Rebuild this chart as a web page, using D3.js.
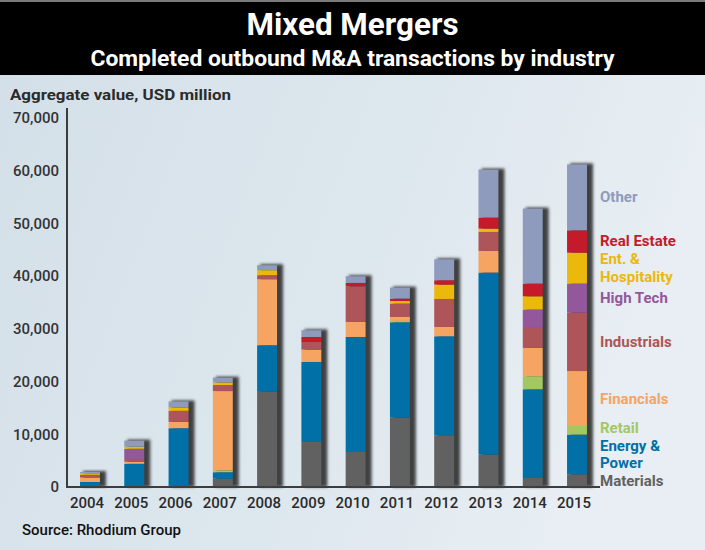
<!DOCTYPE html>
<html>
<head>
<meta charset="utf-8">
<script src="https://cdn.jsdelivr.net/npm/d3@7"></script>
<style>
  html, body { margin: 0; padding: 0; background: #dde6ec; }
  svg { display: block; }
  text { font-family: Roboto, "Noto Sans", sans-serif; }
</style>
</head>
<body>
<svg id="chart" width="705" height="550"></svg>
<script>
// ---------- data ----------
const years = ["2004","2005","2006","2007","2008","2009","2010","2011","2012","2013","2014","2015"];
const materials   = [0,    0,    200,   1600,  18050, 8540,  6640,  13170, 9810,  6150,  1710,  2410];
const energy      = [950,  4400, 10950, 1200,  8850,  15180, 21820, 18080, 18780, 34530, 16830, 7530];
const retail      = [0,    0,    0,     350,   0,     0,     0,     250,   0,     0,     2470,  1630];
const financials  = [850,  400,  1200,  15050, 12520, 2350,  2850,  750,   1770,  4100,  5370,  10430];
const industrials = [500,  500,  2100,  1140,  760,   1440,  6770,  2540,  5310,  3600,  3980,  11080];
const highTech    = [0,    1950, 0,     0,     0,     0,     0,     0,     0,     0,     3300,  5500];
const entHosp     = [300,  400,  630,   500,   950,   0,     0,     500,   2730,  640,   2520,  5880];
const realEstate  = [0,    0,    0,     0,     0,     950,   630,   450,   820,   2090,  2410,  4230];
const other       = [250,  1150, 1150,  900,   950,   1270,  1270,  2090,  3980,  9110,  14230, 12520];

const seriesNames = ["Materials","Energy & Power","Retail","Financials","Industrials","High Tech","Ent. & Hospitality","Real Estate","Other"];
const seriesValues = [materials, energy, retail, financials, industrials, highTech, entHosp, realEstate, other];
const legendLines = [["Materials"],["Energy &","Power"],["Retail"],["Financials"],["Industrials"],["High Tech"],["Ent. &","Hospitality"],["Real Estate"],["Other"]];
const colors = ["#616161","#0070a6","#a3c862","#f5a462","#ad5558","#93579c","#ebb80c","#c51a2a","#8e9bbd"];
const yTicks = [0,10000,20000,30000,40000,50000,60000,70000];

const title = "Mixed Mergers";
const subtitle = "Completed outbound M&A transactions by industry";
const yLabel = "Aggregate value, USD million";
const source = "Source: Rhodium Group";

// ---------- layout ----------
const W = 705, H = 550;
const svg = d3.select("#chart");
const defs = svg.append("defs");

const bg = defs.append("linearGradient").attr("id","bg").attr("x1","0").attr("y1","0").attr("x2","1").attr("y2","0.3");
bg.append("stop").attr("offset","0").attr("stop-color","#d3dfe8");
bg.append("stop").attr("offset","0.6").attr("stop-color","#dde7ee");
bg.append("stop").attr("offset","1").attr("stop-color","#e8eef3");
svg.append("rect").attr("width",W).attr("height",H).attr("fill","url(#bg)");

const blur = defs.append("filter").attr("id","shadow").attr("x","-50%").attr("y","-10%").attr("width","200%").attr("height","120%");
blur.append("feGaussianBlur").attr("stdDeviation",1.6);

// title band
svg.append("rect").attr("x",0).attr("y",0).attr("width",W).attr("height",75).attr("fill","#000");
svg.append("rect").attr("x",0).attr("y",0).attr("width",W).attr("height",2).attr("fill","#7a7a7a");
svg.append("text").attr("x",W/2).attr("y",35).attr("text-anchor","middle")
  .attr("fill","#fff").attr("font-size",32).attr("font-weight",700)
  .attr("textLength",212).attr("lengthAdjust","spacingAndGlyphs").text(title);
svg.append("text").attr("x",W/2).attr("y",66).attr("text-anchor","middle")
  .attr("fill","#fff").attr("font-size",22).attr("font-weight",700)
  .attr("textLength",524).attr("lengthAdjust","spacingAndGlyphs").text(subtitle);

svg.append("text").attr("x",10).attr("y",100).attr("fill","#2b2b2b")
  .attr("font-size",15).attr("font-weight",700)
  .attr("textLength",221).attr("lengthAdjust","spacingAndGlyphs").text(yLabel);

svg.append("text").attr("x",22).attr("y",535).attr("fill","#111")
  .attr("font-size",15).attr("font-weight",500).text(source);

// scales
const y = d3.scaleLinear().domain([0,70000]).range([487,118]);
const x = d3.scaleBand().domain(years).range([67.85,599.15]).paddingInner(0.55).paddingOuter(0.275);

// stack
const table = years.map((yr,i) => {
  const row = {year: yr};
  seriesNames.forEach((s,k) => row[s] = seriesValues[k][i]);
  return row;
});
const stacked = d3.stack().keys(seriesNames)(table);
const totals = years.map((yr,i) => d3.sum(seriesValues, s => s[i]));

// shadows
svg.append("g").selectAll("rect").data(years).join("rect")
  .attr("x", d => x(d) + 3)
  .attr("y", (d,i) => y(totals[i]) - 1)
  .attr("width", x.bandwidth() + 3)
  .attr("height", (d,i) => y(0) - y(totals[i]) + 1)
  .attr("fill","#2f2f2f").attr("opacity",0.9)
  .attr("filter","url(#shadow)");

// bars
svg.append("g").selectAll("g").data(stacked).join("g")
  .attr("fill", (d,k) => colors[k])
  .selectAll("rect").data(d => d).join("rect")
  .attr("x", d => x(d.data.year))
  .attr("y", d => y(d[1]))
  .attr("width", x.bandwidth())
  .attr("height", d => Math.max(0, y(d[0]) - y(d[1])));

// axes
const yAxis = d3.axisLeft(y).tickValues(yTicks).tickSize(0).tickPadding(8).tickFormat(d3.format(","));
const gy = svg.append("g").attr("transform","translate(67,0)").call(yAxis);
gy.select(".domain").remove();
gy.selectAll("text").attr("font-size",15).attr("font-weight",500).attr("fill","#333")
  .attr("font-family","Roboto, sans-serif");

const xAxis = d3.axisBottom(x).tickSize(0).tickPadding(10);
const gx = svg.append("g").attr("transform","translate(-3,487)").call(xAxis);
gx.select(".domain").remove();
gx.selectAll("text").attr("font-size",15).attr("font-weight",500).attr("fill","#2b2b2b")
  .attr("font-family","Roboto, sans-serif");

svg.append("path").attr("d","M67,108V487H600").attr("fill","none").attr("stroke","#3d3d3d").attr("stroke-width",2);

// legend at segment centres of the last bar, nudged apart from the bottom up
const last = years.length - 1;
const lh = 17.5, gap = 17.5;
let limit = Infinity; // lowest allowed baseline for the next label's bottom line
const lg = svg.append("g");
stacked.forEach((s,k) => {
  const seg = s[last];
  const cy = (y(seg[0]) + y(seg[1])) / 2;
  const lines = legendLines[k];
  let bottom = cy + 5 + (lines.length - 1) / 2 * lh;
  bottom = Math.min(bottom, limit);
  const t = lg.append("text").attr("x",600).attr("fill",colors[k])
    .attr("font-size",15).attr("font-weight",700);
  lines.forEach((ln,j) => {
    t.append("tspan").attr("x",600)
      .attr("y", bottom - (lines.length - 1 - j) * lh)
      .text(ln);
  });
  limit = bottom - (lines.length - 1) * lh - gap;
});
</script>
</body>
</html>
